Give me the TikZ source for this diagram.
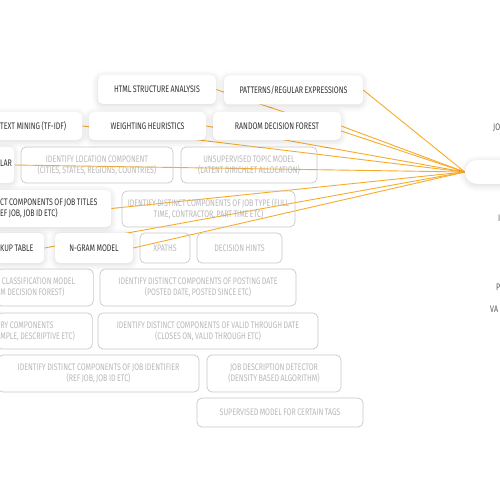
\documentclass[tikz,border=0pt]{standalone}
\usepackage{fontspec}
\setmainfont{Fira Sans}[FakeStretch=0.74, WordSpace=0.8]
\usetikzlibrary{shadows.blur,backgrounds}
\definecolor{linkorange}{HTML}{F7AA2A}

\begin{document}
\begin{tikzpicture}[
    x=1pt, y=-1pt,
    every node/.style={font=\fontsize{9.5}{11}\selectfont, align=center, inner sep=0pt},
    tool/.style={fill=white, rounded corners=5pt, text=black!80,
        blur shadow={shadow xshift=0pt, shadow yshift=-1.5pt, shadow blur radius=6pt, shadow opacity=16}},
    task/.style={draw=black!22, line width=0.7pt, rounded corners=5pt, text=black!28},
    cut/.style={anchor=west, align=flush left, inner xsep=4pt},
    link/.style={draw=linkorange, line width=0.9pt}
]
    \useasboundingbox (0,0) rectangle (500,500);
    \clip (0,0) rectangle (500,500);

    % techniques in use
    \node[tool, minimum width=118pt, minimum height=29pt] (html) at (157,89.5) {HTML STRUCTURE ANALYSIS};
    \node[tool, minimum width=139pt, minimum height=29pt] (patterns) at (293.5,90) {PATTERNS/REGULAR EXPRESSIONS};
    \node[tool, cut, text width=78pt, minimum height=28pt] (tfidf) at (-4,126) {TEXT MINING (TF-IDF)};
    \node[tool, minimum width=117pt, minimum height=28pt] (weighting) at (147.5,126) {WEIGHTING HEURISTICS};
    \node[tool, minimum width=128pt, minimum height=28pt] (forest) at (277,126) {RANDOM DECISION FOREST};
    \node[tool, cut, text width=10pt, minimum height=36pt] (lar) at (-4,165) {\raisebox{4pt}{LAR}};
    \node[tool, cut, text width=107pt, minimum height=37pt] (titles) at (-4,208.5) {CT COMPONENTS OF JOB TITLES\\EF JOB, JOB ID ETC)};
    \node[tool, cut, text width=40pt, minimum height=30pt] (lookup) at (-4,248) {KUP TABLE};
    \node[tool, minimum width=78pt, minimum height=30pt] (ngram) at (94,248) {N-GRAM MODEL};

    % tasks still open
    \node[task, minimum width=152pt, minimum height=36pt] (location) at (97,165) {IDENTIFY LOCATION COMPONENT\\(CITIES, STATES, REGIONS, COUNTRIES)};
    \node[task, minimum width=136pt, minimum height=36pt] (topic) at (249,165) {UNSUPERVISED TOPIC MODEL\\(LATENT DIRICHLET ALLOCATION)};
    \node[task, minimum width=173pt, minimum height=36pt] (jobtype) at (208.5,209) {IDENTIFY DISTINCT COMPONENTS OF JOB TYPE (FULL\\TIME, CONTRACTOR, PART TIME ETC)};
    \node[task, minimum width=50pt, minimum height=30pt] (xpaths) at (165,248) {XPATHS};
    \node[task, minimum width=85pt, minimum height=30pt] (hints) at (239.5,248) {DECISION HINTS};
    \node[task, cut, text width=89pt, minimum height=37pt] (classify) at (-4,287.5) {\,CLASSIFICATION MODEL\\M DECISION FOREST)};
    \node[task, minimum width=196pt, minimum height=37pt] (posting) at (198,287.5) {IDENTIFY DISTINCT COMPONENTS OF POSTING DATE\\(POSTED DATE, POSTED SINCE ETC)};
    \node[task, cut, text width=88pt, minimum height=36pt] (salary) at (-4,331) {RY COMPONENTS\\MPLE, DESCRIPTIVE ETC)};
    \node[task, minimum width=220pt, minimum height=36pt] (valid) at (208,331) {IDENTIFY DISTINCT COMPONENTS OF VALID THROUGH DATE\\(CLOSES ON, VALID THROUGH ETC)};
    \node[task, minimum width=201pt, minimum height=37pt] (jobid) at (98.5,373.5) {IDENTIFY DISTINCT COMPONENTS OF JOB IDENTIFIER\\(REF JOB, JOB ID ETC)};
    \node[task, minimum width=134pt, minimum height=37pt] (detector) at (274,373.5) {JOB DESCRIPTION DETECTOR\\(DENSITY BASED ALGORITHM)};
    \node[task, minimum width=166pt, minimum height=29pt] (supervised) at (280,412.5) {SUPERVISED MODEL FOR CERTAIN TAGS};

    % hub and its labels
    \node[tool, minimum width=80pt, minimum height=24pt, rounded corners=12pt] (hub) at (505,172) {};
    \node[anchor=west, text=black!65] (jo) at (493,128) {JO};
    \node[anchor=west, text=black!65] (id) at (498,218) {I};
    \node[anchor=west, text=black!65] (po) at (496,287) {P};
    \node[anchor=west, text=black!65] (va) at (490,309) {VA};

    \begin{pgfonlayer}{background}
        \foreach \src in {html,patterns,tfidf,weighting,forest,lar,titles,lookup,ngram}
            \draw[link] (\src.east) -- (hub.west);
    \end{pgfonlayer}
\end{tikzpicture}
\end{document}
